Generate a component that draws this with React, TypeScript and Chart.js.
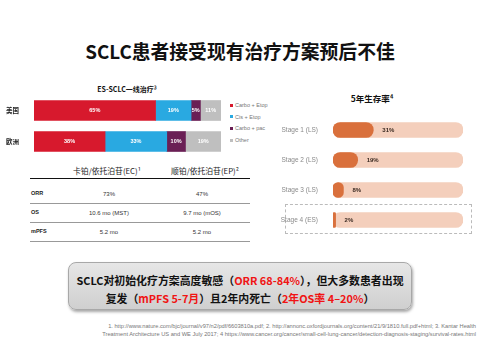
import React, { useEffect, useRef } from "react";
import { Chart, registerables } from "chart.js";
Chart.register(...registerables);

// ---- Data ----
const regions = ["美国", "欧洲"];
const regimenNames = ["Carbo + Etop", "Cis + Etop", "Carbo + pac", "Other"];
const carboEtop = [65, 38];
const cisEtop = [19, 33];
const carboPac = [5, 10];
const other = [11, 19];
const regimenColors = ["#D7192D", "#29A9E1", "#6A1F55", "#BFBFBF"];

const stages = ["Stage 1 (LS)", "Stage 2 (LS)", "Stage 3 (LS)", "Stage 4 (ES)"];
const survival5y = [31, 19, 8, 2];
const trackFull = [100, 100, 100, 100];

const tableHeaders = ["卡铂/依托泊苷(EC)¹", "顺铂/依托泊苷(EP)²"];
const tableRows = ["ORR", "OS", "mPFS"];
const ecValues = ["73%", "10.6 mo (MST)", "5.2 mo"];
const epValues = ["47%", "9.7 mo (mOS)", "5.2 mo"];

const FONT = '"Liberation Sans", "Noto Sans CJK SC", Arial, sans-serif';
const CJK = '"Noto Sans CJK SC", "Liberation Sans", sans-serif';

const noVertPad = (w: number) => (s: any) => {
  s.width = w;
  s.paddingTop = 0;
  s.paddingBottom = 0;
};

const segLabelPlugin = {
  id: "segLabels",
  afterDatasetsDraw(chart: any) {
    const ctx = chart.ctx;
    ctx.save();
    ctx.fillStyle = "#ffffff";
    ctx.font = `bold 5.5px ${FONT}`;
    ctx.textAlign = "center";
    ctx.textBaseline = "middle";
    chart.data.datasets.forEach((ds: any, i: number) => {
      const meta = chart.getDatasetMeta(i);
      meta.data.forEach((bar: any, j: number) => {
        const p = bar.getProps(["x", "y", "base"], true);
        ctx.fillText(ds.data[j] + "%", (p.x + p.base) / 2, p.y);
      });
    });
    ctx.restore();
  },
};

const survLabelPlugin = {
  id: "survLabels",
  afterDatasetsDraw(chart: any) {
    const ctx = chart.ctx;
    ctx.save();
    ctx.fillStyle = "#3a2a22";
    ctx.font = `bold 6px ${FONT}`;
    ctx.textAlign = "left";
    ctx.textBaseline = "middle";
    const meta = chart.getDatasetMeta(0);
    const ds = chart.data.datasets[0];
    meta.data.forEach((bar: any, j: number) => {
      const p = bar.getProps(["x", "y"], true);
      ctx.fillText(ds.data[j] + "%", p.x + 9, p.y + 0.5);
    });
    ctx.restore();
  },
};

function RegimenChart() {
  const ref = useRef<HTMLCanvasElement>(null);
  useEffect(() => {
    const series = [carboEtop, cisEtop, carboPac, other];
    const chart = new Chart(ref.current!, {
      type: "bar",
      data: {
        labels: regions,
        datasets: series.map((d, i) => ({
          label: regimenNames[i],
          data: d,
          backgroundColor: regimenColors[i],
          borderWidth: 0,
          barThickness: 20,
        })),
      },
      options: {
        indexAxis: "y",
        animation: false,
        responsive: false,
        maintainAspectRatio: false,
        layout: { padding: 0 },
        plugins: { legend: { display: false }, tooltip: { enabled: false } },
        scales: {
          x: { stacked: true, min: 0, max: 100, display: false },
          y: {
            stacked: true,
            grid: { display: false },
            border: { display: false },
            ticks: { color: "#222", font: { size: 6.5, weight: "bold", family: CJK }, padding: 7 },
            afterFit: noVertPad(34),
          },
        },
      },
      plugins: [segLabelPlugin],
    } as any);
    return () => chart.destroy();
  }, []);
  return <canvas ref={ref} width={221} height={62} style={{ position: "absolute", left: 0, top: 94.5, width: 221, height: 62 }} />;
}

function SurvivalChart() {
  const ref = useRef<HTMLCanvasElement>(null);
  useEffect(() => {
    const chart = new Chart(ref.current!, {
      type: "bar",
      data: {
        labels: stages,
        datasets: [
          {
            label: "5y",
            data: survival5y,
            backgroundColor: "#D9703C",
            borderRadius: 8,
            borderSkipped: false,
            barThickness: 15,
            order: 0,
          },
          {
            label: "track",
            data: trackFull,
            backgroundColor: "#F4CFBC",
            borderRadius: 8,
            borderSkipped: false,
            barThickness: 15,
            order: 1,
          },
        ],
      },
      options: {
        indexAxis: "y",
        animation: false,
        responsive: false,
        maintainAspectRatio: false,
        grouped: false,
        layout: { padding: 0 },
        plugins: { legend: { display: false }, tooltip: { enabled: false } },
        scales: {
          x: { min: 0, max: 100, display: false },
          y: {
            grid: { display: false },
            border: { display: false },
            ticks: { color: "#8a8a8a", font: { size: 6.5, family: FONT }, padding: 7 },
            afterFit: noVertPad(53),
          },
        },
      },
      plugins: [survLabelPlugin],
    } as any);
    return () => chart.destroy();
  }, []);
  return <canvas ref={ref} width={183} height={120} style={{ position: "absolute", left: 280, top: 114.5, width: 183, height: 120 }} />;
}

const abs = (x: number, y: number, extra: React.CSSProperties = {}): React.CSSProperties => ({
  position: "absolute",
  left: x,
  top: y,
  transform: "translate(-50%, -50%)",
  whiteSpace: "nowrap",
  ...extra,
});

export default function App() {
  const red = { color: "#F01414" };
  return (
    <div style={{ position: "absolute", left: 0, top: 0, width: 480, height: 360, background: "#fff", overflow: "hidden", fontFamily: FONT }}>
      <div style={abs(240, 50, { fontSize: 18.8, fontWeight: "bold", fontFamily: CJK, color: "#111" })}>
        SCLC患者接受现有治疗方案预后不佳
      </div>

      <div style={abs(127, 89, { fontSize: 7, fontWeight: "bold", fontFamily: CJK, color: "#111" })}>
        ES-SCLC一线治疗³
      </div>
      <RegimenChart />
      {regimenNames.map((n, i) => (
        <div key={n} style={{ position: "absolute", left: 230, top: 106 + i * 11.7 - 4, display: "flex", alignItems: "center", fontSize: 5.5, color: "#777", whiteSpace: "nowrap" }}>
          <span style={{ display: "inline-block", width: 3, height: 3, background: regimenColors[i], marginRight: 2 }} />
          {n}
        </div>
      ))}

      {/* table */}
      <div style={abs(107, 170, { fontSize: 7.8, fontFamily: CJK, color: "#222" })}>{tableHeaders[0]}</div>
      <div style={abs(205, 170, { fontSize: 7.8, fontFamily: CJK, color: "#222" })}>{tableHeaders[1]}</div>
      <div style={{ position: "absolute", left: 30, top: 177.5, width: 220, height: 1.3, background: "#111" }} />
      {tableRows.map((r, i) => (
        <React.Fragment key={r}>
          <div style={{ position: "absolute", left: 31, top: 194 + i * 19 - 4, fontSize: 5.5, color: "#222", fontWeight: "bold" }}>{r}</div>
          <div style={abs(109, 194 + i * 19, { fontSize: 6, color: "#333" })}>{ecValues[i]}</div>
          <div style={abs(202, 194 + i * 19, { fontSize: 6, color: "#333" })}>{epValues[i]}</div>
          <div style={{ position: "absolute", left: 30, top: 203 + i * 19, width: 220, height: 0.6, background: "#999" }} />
        </React.Fragment>
      ))}

      {/* right */}
      <div style={abs(372, 98, { fontSize: 8.5, fontWeight: "bold", fontFamily: CJK, color: "#111" })}>5年生存率⁴</div>
      <div style={{ position: "absolute", left: 285, top: 203.5, width: 187, height: 30, border: "1px dashed #bbb", boxSizing: "border-box" }} />
      <SurvivalChart />

      {/* summary box */}
      <div style={{ position: "absolute", left: 68, top: 262, width: 344, height: 48, boxSizing: "border-box", borderRadius: 8, border: "1px solid #a8a8a8", background: "linear-gradient(#e6e6e6, #cfcfcf)", boxShadow: "1px 2px 3px rgba(0,0,0,0.35)" }} />
      <div style={abs(240, 280, { fontSize: 10.9, fontWeight: "bold", fontFamily: CJK, color: "#111" })}>
        SCLC对初始化疗方案高度敏感（<span style={red}>ORR 68-84%</span>），但大多数患者出现
      </div>
      <div style={abs(240, 298, { fontSize: 10.9, fontWeight: "bold", fontFamily: CJK, color: "#111" })}>
        复发（<span style={red}>mPFS 5-7月</span>）且2年内死亡（<span style={red}>2年OS率 4–20%</span>）
      </div>

      {/* footnote */}
      <div style={{ position: "absolute", right: 4, top: 321.5, fontSize: 5.7, lineHeight: "8.5px", color: "#777", textAlign: "right", whiteSpace: "nowrap" }}>
        1. http://www.nature.com/bjc/journal/v97/n2/pdf/6603810a.pdf; 2. http://annonc.oxfordjournals.org/content/21/9/1810.full.pdf+html; 3. Kantar Health
        <br />
        Treatment Architecture US and WE July 2017; 4 https://www.cancer.org/cancer/small-cell-lung-cancer/detection-diagnosis-staging/survival-rates.html
      </div>
    </div>
  );
}
